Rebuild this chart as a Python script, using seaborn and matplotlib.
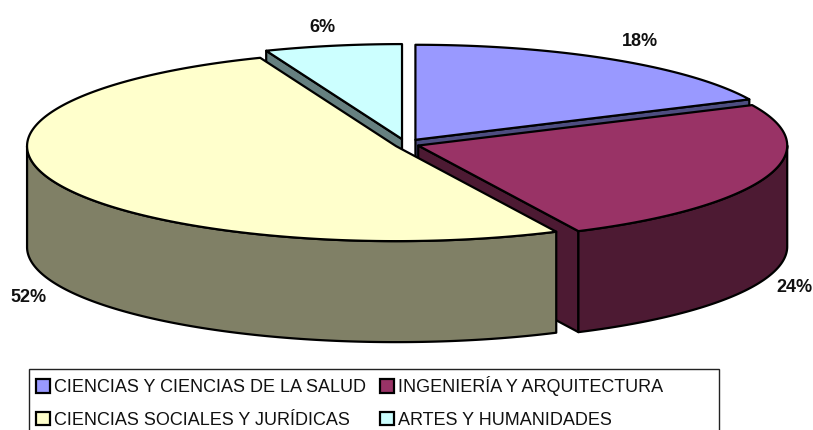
import numpy as np
import matplotlib
matplotlib.use("Agg")
import matplotlib.pyplot as plt
from matplotlib.patches import Patch, Polygon, Rectangle
import seaborn as sns

# Share of each branch, in drawing order (clockwise from the top)
categories = [
    "CIENCIAS Y CIENCIAS DE LA SALUD",
    "INGENIERÍA Y ARQUITECTURA",
    "CIENCIAS SOCIALES Y JURÍDICAS",
    "ARTES Y HUMANIDADES",
]
shares = [18, 24, 52, 6]
slice_colors = ["#9999FF", "#993366", "#FFFFCC", "#CCFFFF"]

sns.set_theme(style="white")
plt.rcParams["font.family"] = ["Liberation Sans", "DejaVu Sans"]

# pie geometry in pixels
CX, CY = 407, 144
RX, RY = 369, 95
DEPTH = 101
EXPLODE_X, EXPLODE_Y = 11.5, 5
EDGE = dict(edgecolor="black", linewidth=1.6, joinstyle="round")


def warp(deg):
    # the original 3D view pulls the front of the pie round a little
    return deg - 4.0 * max(0.0, -np.sin(np.radians(deg))) ** 2


def point(apex, deg):
    a = np.radians(warp(deg))
    return np.array([apex[0] + RX * np.cos(a), apex[1] - RY * np.sin(a)])


def arc(apex, start, end):
    steps = max(2, int(abs(end - start)) * 2)
    return np.array([point(apex, d) for d in np.linspace(start, end, steps)])


fig, ax = plt.subplots(figsize=(8.13, 4.30), dpi=100)
fig.subplots_adjust(0, 0, 1, 1)
ax.set_xlim(0, 813)
ax.set_ylim(430, 0)
ax.axis("off")

down = np.array([0, DEPTH])
angles = 90 - np.cumsum([0] + shares) * 3.6
slices = []
for i, color in enumerate(slice_colors):
    start, end = angles[i], angles[i + 1]
    mid = np.radians((start + end) / 2)
    # slices near the top move sideways more than a plain cosine would
    dx = np.sign(np.cos(mid)) * np.sqrt(abs(np.cos(mid)))
    apex = np.array([CX + EXPLODE_X * dx, CY - EXPLODE_Y * np.sin(mid)])
    slices.append((start, end, apex, color))

# cut faces first, they sit behind the top of the next slice
order = [3, 0, 1, 2]
for i in order:
    start, end, apex, color = slices[i]
    dark = tuple(c * 0.5 for c in matplotlib.colors.to_rgb(color))
    # radial wall on the clockwise end of the slice
    if i in (0, 1):
        p = point(apex, end)
        ax.add_patch(Polygon([apex, p, p + down, apex + down], facecolor=dark, **EDGE))
    if i == 3:
        p = point(apex, start)
        ax.add_patch(Polygon([apex, p, p + down, apex + down], facecolor=dark, **EDGE))
    # outer wall, only the part facing the viewer
    lo, hi = max(end, -180), min(start, 0)
    if lo < hi:
        rim = arc(apex, hi, lo)
        ax.add_patch(Polygon(np.vstack([rim, (rim + down)[::-1]]), facecolor=dark, **EDGE))
    # top face
    ax.add_patch(Polygon(np.vstack([[apex], arc(apex, start, end)]), facecolor=color, **EDGE))

# percentage labels
label_font = dict(fontsize=13, fontweight="bold", color="#111111", ha="center", va="center")
label_xy = [(640, 41), (794, 287), (28, 298), (322, 27)]
for share, (x, y) in zip(shares, label_xy):
    ax.text(x, y, f"{share}%", **label_font)

# legend frame runs off the bottom of the picture
ax.add_patch(Rectangle((29, 369), 690, 90, facecolor="white", edgecolor="#222222", linewidth=1.0))
handles = [Patch(facecolor=c, edgecolor="black", linewidth=1.6) for c in slice_colors]
pick = [0, 2, 1, 3]
ax.legend(
    [handles[i] for i in pick],
    [categories[i] for i in pick],
    ncol=2,
    loc="upper left",
    bbox_to_anchor=(36, 376),
    bbox_transform=ax.transData,
    frameon=False,
    fontsize=13,
    labelcolor="#111111",
    handlelength=0.78,
    handleheight=0.78,
    handletextpad=0.22,
    columnspacing=0.78,
    labelspacing=0.88,
    borderpad=0,
    borderaxespad=0,
)

fig.savefig("out.png", dpi=100)
